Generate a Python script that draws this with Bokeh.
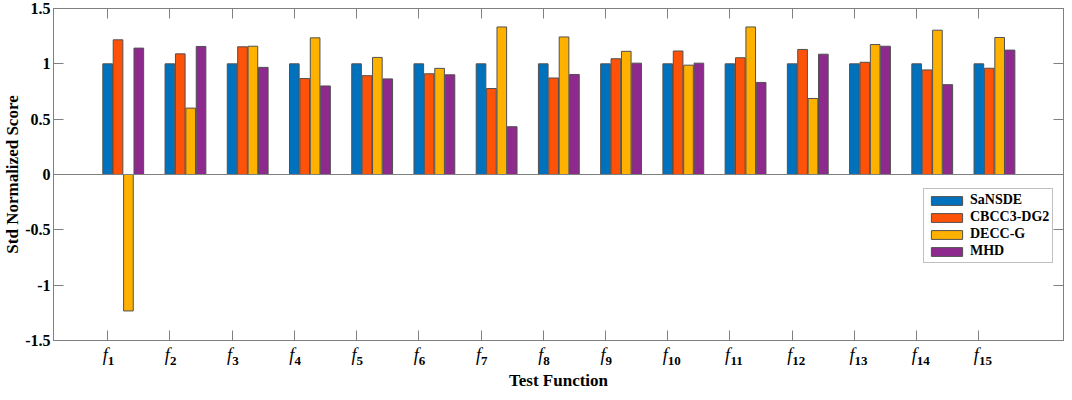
import numpy as np
from bokeh.plotting import figure
from bokeh.models import (Range1d, FixedTicker, LinearAxis, Span, Legend, LegendItem,
                          ColumnDataSource)
from bokeh.transform import dodge
from bokeh.embed import file_html
from bokeh.resources import INLINE

# ---------------- data ----------------
positions = list(range(1, 16))
func_letter = ["f"] * 15
func_index = [str(i) for i in range(1, 16)]
series_names = ["SaNSDE", "CBCC3-DG2", "DECC-G", "MHD"]

sansde = [1.0, 1.0, 1.0, 1.0, 1.0, 1.0, 1.0, 1.0, 1.0, 1.0, 1.0, 1.0, 1.0, 1.0, 1.0]
cbcc3_dg2 = [1.217, 1.090, 1.154, 0.867, 0.893, 0.910, 0.777, 0.872, 1.046, 1.116,
             1.055, 1.130, 1.014, 0.945, 0.960]
decc_g = [-1.233, 0.600, 1.159, 1.235, 1.058, 0.959, 1.333, 1.243, 1.113, 0.988,
          1.333, 0.687, 1.174, 1.304, 1.238]
mhd = [1.142, 1.157, 0.968, 0.800, 0.864, 0.901, 0.432, 0.904, 1.006, 1.006,
       0.832, 1.087, 1.159, 0.812, 1.124]

y_ticks = [-1.5, -1, -0.5, 0, 0.5, 1, 1.5]
y_tick_labels = ["-1.5", "-1", "-0.5", "0", "0.5", "1", "1.5"]

colors = ["#0072BD", "#FF5209", "#FFB100", "#8E2A8E"]
offsets = [0.0, 0.167, 0.334, 0.501]
bar_width = 0.155

FONT = "Liberation Serif"
GRAY = "#808080"
PX_PER_UNIT = 62.3

src = ColumnDataSource(dict(x=positions, s0=sansde, s1=cbcc3_dg2, s2=decc_g, s3=mhd))

p = figure(width=1064, height=392, x_range=Range1d(0.13, 16.36), y_range=Range1d(-1.5, 1.5),
           output_backend="svg", toolbar_location=None,
           min_border_top=8, min_border_bottom=46, min_border_left=0, min_border_right=1)
p.xgrid.visible = False
p.ygrid.visible = False
p.outline_line_color = GRAY
p.background_fill_color = "white"
p.border_fill_color = "white"

# zero baseline
p.add_layout(Span(location=0, dimension="width", line_color=GRAY, line_width=1))

renderers = []
for k, col in enumerate(["s0", "s1", "s2", "s3"]):
    r = p.vbar(x=dodge("x", offsets[k], range=p.x_range), top=col, bottom=0, width=bar_width,
               source=src, fill_color=colors[k], line_color="#505050", line_width=1)
    renderers.append(r)


def tick_only_axis(ticks):
    return LinearAxis(ticker=FixedTicker(ticks=ticks), major_tick_in=10, major_tick_out=0,
                      minor_tick_line_color=None, major_label_text_font_size="1px",
                      major_label_text_color=None, major_label_standoff=0,
                      axis_line_color=GRAY, major_tick_line_color=GRAY)


# bottom axis (ticks only)
xa = p.xaxis[0]
xa.ticker = FixedTicker(ticks=positions)
xa.major_tick_in = 10
xa.major_tick_out = 0
xa.minor_tick_line_color = None
xa.major_label_text_font_size = "1px"
xa.major_label_text_color = None
xa.major_label_standoff = 0
xa.axis_line_color = GRAY
xa.major_tick_line_color = GRAY

# "f" labels (italic), just left of each tick
f_pos = [x - 2.5 / PX_PER_UNIT for x in positions]
f_axis = LinearAxis(ticker=FixedTicker(ticks=f_pos),
                    major_label_overrides=dict(zip(f_pos, func_letter)),
                    major_tick_in=0, major_tick_out=0, major_tick_line_color=None,
                    minor_tick_line_color=None, axis_line_color=None,
                    major_label_text_font=FONT, major_label_text_font_style="italic",
                    major_label_text_font_size="18px", major_label_text_color="black",
                    major_label_standoff=4)
p.add_layout(f_axis, "below")

# subscript index labels (bold, smaller), just right of each tick
s_pos = [x + len(s) * 3.3 / PX_PER_UNIT for x, s in zip(positions, func_index)]
s_axis = LinearAxis(ticker=FixedTicker(ticks=s_pos),
                    major_label_overrides=dict(zip(s_pos, func_index)),
                    major_tick_in=0, major_tick_out=0, major_tick_line_color=None,
                    minor_tick_line_color=None, axis_line_color=None,
                    major_label_text_font=FONT, major_label_text_font_style="bold",
                    major_label_text_font_size="13px", major_label_text_color="black",
                    major_label_standoff=-11,
                    axis_label="Test Function", axis_label_text_font=FONT,
                    axis_label_text_font_style="bold", axis_label_text_font_size="17px",
                    axis_label_text_color="black", axis_label_standoff=3)
p.add_layout(s_axis, "below")

# left axis
ya = p.yaxis[0]
ya.ticker = FixedTicker(ticks=y_ticks)
ya.major_label_overrides = dict(zip(y_ticks, y_tick_labels))
ya.major_tick_in = 10
ya.major_tick_out = 0
ya.minor_tick_line_color = None
ya.major_label_text_font = FONT
ya.major_label_text_font_style = "bold"
ya.major_label_text_font_size = "16px"
ya.major_label_text_color = "black"
ya.major_label_standoff = 3
ya.axis_line_color = GRAY
ya.major_tick_line_color = GRAY
ya.axis_label = "Std Normalized Score"
ya.axis_label_text_font = FONT
ya.axis_label_text_font_style = "bold"
ya.axis_label_text_font_size = "17px"
ya.axis_label_text_color = "black"
ya.axis_label_standoff = 0

# mirror axes (top, right)
p.add_layout(tick_only_axis(positions), "above")
p.add_layout(tick_only_axis(y_ticks), "right")

legend = Legend(items=[LegendItem(label=series_names[k], renderers=[renderers[k]]) for k in range(4)],
                location=(870, 77))
legend.glyph_width = 39
legend.glyph_height = 11
legend.label_height = 13
legend.label_standoff = 4
legend.spacing = 1
legend.padding = 3
legend.margin = 0
legend.label_text_font = FONT
legend.label_text_font_style = "bold"
legend.label_text_font_size = "14px"
legend.label_text_color = "black"
legend.border_line_color = GRAY
legend.border_line_width = 1
legend.background_fill_color = "white"
legend.background_fill_alpha = 1.0
p.add_layout(legend)

open("out.html", "w").write(file_html(p, INLINE))
